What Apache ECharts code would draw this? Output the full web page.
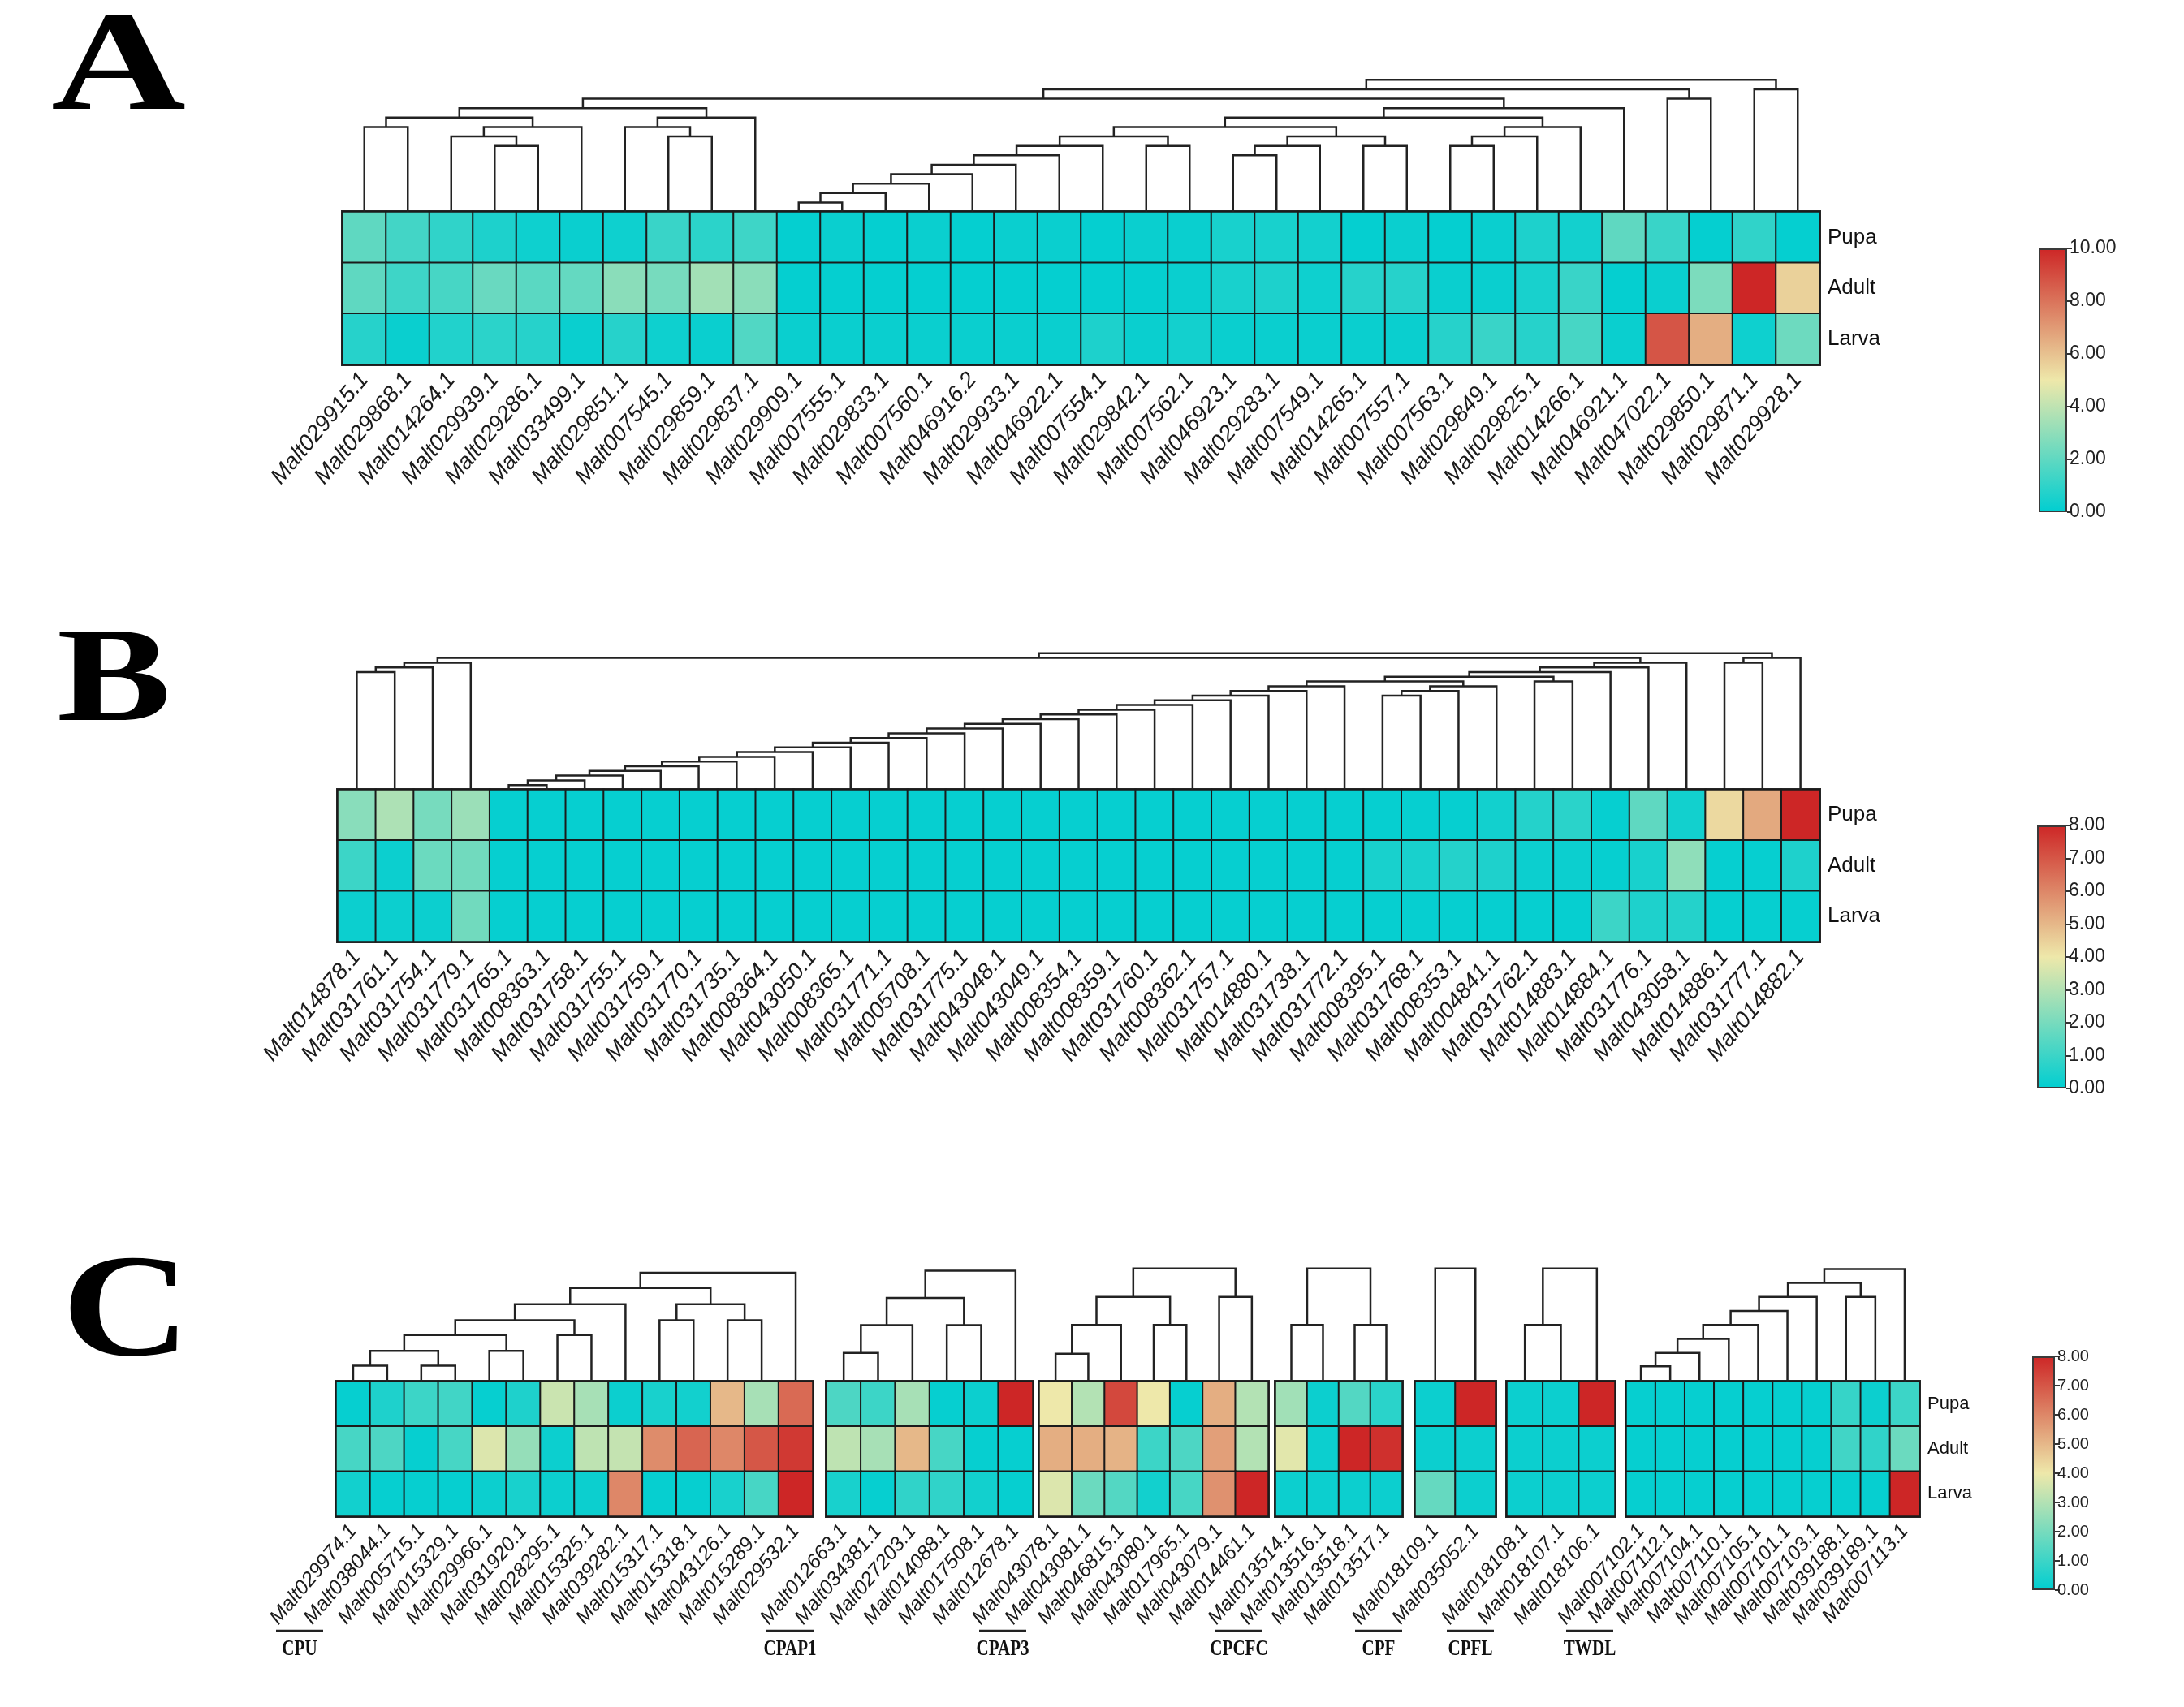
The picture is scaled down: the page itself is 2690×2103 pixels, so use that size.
<!DOCTYPE html>
<html>
<head>
<meta charset="utf-8">
<title>Expression heatmaps A B C</title>
<script src="https://cdn.jsdelivr.net/npm/echarts@6/dist/echarts.min.js"></script>
<style>
  html, body { margin: 0; padding: 0; background: #fff; }
  #chart { width: 2690px; height: 2103px; }
</style>
</head>
<body>
<div id="chart"></div>
<script>
// ================= data =================
const stages = ['Pupa', 'Adult', 'Larva'];

// ---- panel A ----
const genesA = ['Malt029915.1', 'Malt029868.1', 'Malt014264.1', 'Malt029939.1', 'Malt029286.1', 'Malt033499.1',
  'Malt029851.1', 'Malt007545.1', 'Malt029859.1', 'Malt029837.1', 'Malt029909.1', 'Malt007555.1', 'Malt029833.1',
  'Malt007560.1', 'Malt046916.2', 'Malt029933.1', 'Malt046922.1', 'Malt007554.1', 'Malt029842.1', 'Malt007562.1',
  'Malt046923.1', 'Malt029283.1', 'Malt007549.1', 'Malt014265.1', 'Malt007557.1', 'Malt007563.1', 'Malt029849.1',
  'Malt029825.1', 'Malt014266.1', 'Malt046921.1', 'Malt047022.1', 'Malt029850.1', 'Malt029871.1', 'Malt029928.1'];
const pupaA  = [2.0, 1.4, 1.0, 0.6, 0.3, 0.2, 0.3, 1.2, 0.9, 1.3, 0.1, 0.2, 0.1, 0.2, 0.1, 0.2, 0.2, 0.1, 0.2, 0.2,
  0.5, 0.5, 0.4, 0.1, 0.2, 0.1, 0.2, 0.6, 0.4, 2.0, 1.2, 0.1, 1.0, 0.1];
const adultA = [2.0, 1.3, 1.5, 2.2, 1.9, 2.1, 2.9, 2.5, 3.4, 2.9, 0.1, 0.1, 0.1, 0.1, 0.1, 0.1, 0.1, 0.1, 0.1, 0.2,
  0.5, 0.6, 0.3, 0.8, 0.8, 0.2, 0.2, 0.5, 1.2, 0.1, 0.2, 2.6, 10.0, 5.6];
const larvaA = [0.8, 0.2, 0.7, 0.9, 0.8, 0.2, 0.8, 0.3, 0.2, 1.7, 0.2, 0.2, 0.2, 0.2, 0.2, 0.2, 0.2, 0.6, 0.2, 0.4,
  0.2, 0.2, 0.2, 0.2, 0.2, 0.8, 1.2, 0.8, 1.5, 0.2, 8.8, 6.5, 0.3, 2.3];
// merges [left, right, height]; index < n is a leaf, n + k is merge k
const treeA = [[0, 1, 9], [3, 4, 7], [2, 35, 8], [36, 5, 9], [34, 37, 10], [7, 8, 8], [6, 39, 9], [40, 9, 10],
  [38, 41, 11], [10, 11, 1], [43, 12, 2], [44, 13, 3], [45, 14, 4], [46, 15, 5], [47, 16, 6], [48, 17, 7],
  [18, 19, 7], [49, 50, 8], [20, 21, 6], [52, 22, 7], [23, 24, 7], [53, 54, 8], [51, 55, 9], [25, 26, 7],
  [57, 27, 8], [58, 28, 9], [56, 59, 10], [60, 29, 11], [42, 61, 12], [30, 31, 12], [62, 63, 13],
  [32, 33, 13], [64, 65, 14]];
const ticksA = [0, 2, 4, 6, 8, 10];

// ---- panel B ----
const genesB = ['Malt014878.1', 'Malt031761.1', 'Malt031754.1', 'Malt031779.1', 'Malt031765.1', 'Malt008363.1',
  'Malt031758.1', 'Malt031755.1', 'Malt031759.1', 'Malt031770.1', 'Malt031735.1', 'Malt008364.1', 'Malt043050.1',
  'Malt008365.1', 'Malt031771.1', 'Malt005708.1', 'Malt031775.1', 'Malt043048.1', 'Malt043049.1', 'Malt008354.1',
  'Malt008359.1', 'Malt031760.1', 'Malt008362.1', 'Malt031757.1', 'Malt014880.1', 'Malt031738.1', 'Malt031772.1',
  'Malt008395.1', 'Malt031768.1', 'Malt008353.1', 'Malt004841.1', 'Malt031762.1', 'Malt014883.1', 'Malt014884.1',
  'Malt031776.1', 'Malt043058.1', 'Malt014886.1', 'Malt031777.1', 'Malt014882.1'];
const pupaB  = [2.3, 2.9, 2.0, 2.6, 0.1, 0.1, 0.1, 0.1, 0.1, 0.1, 0.1, 0.1, 0.1, 0.1, 0.1, 0.1, 0.1, 0.1, 0.1, 0.1,
  0.1, 0.1, 0.1, 0.1, 0.1, 0.1, 0.1, 0.1, 0.1, 0.1, 0.3, 0.6, 0.7, 0.1, 1.6, 0.3, 4.3, 5.3, 8.0];
const adultB = [1.0, 0.2, 1.8, 1.9, 0.1, 0.1, 0.1, 0.1, 0.1, 0.1, 0.1, 0.1, 0.1, 0.1, 0.1, 0.1, 0.1, 0.1, 0.1, 0.1,
  0.1, 0.1, 0.1, 0.1, 0.1, 0.1, 0.1, 0.4, 0.4, 0.6, 0.5, 0.2, 0.2, 0.1, 0.4, 2.4, 0.1, 0.1, 0.5];
const larvaB = [0.2, 0.2, 0.2, 1.9, 0.1, 0.1, 0.1, 0.1, 0.1, 0.1, 0.1, 0.1, 0.1, 0.1, 0.1, 0.1, 0.1, 0.1, 0.1, 0.1,
  0.1, 0.1, 0.1, 0.1, 0.1, 0.1, 0.1, 0.1, 0.1, 0.1, 0.1, 0.1, 0.1, 1.0, 0.5, 0.6, 0.1, 0.1, 0.1];
const treeB = [[0, 1, 25], [39, 2, 26], [40, 3, 27], [4, 5, 1], [42, 6, 2], [43, 7, 3], [44, 8, 4], [45, 9, 5],
  [46, 10, 6], [47, 11, 7], [48, 12, 8], [49, 13, 9], [50, 14, 10], [51, 15, 11], [52, 16, 12], [53, 17, 13],
  [54, 18, 14], [55, 19, 15], [56, 20, 16], [57, 21, 17], [58, 22, 18], [59, 23, 19], [60, 24, 20], [61, 25, 21],
  [62, 26, 22], [27, 28, 20], [64, 29, 21], [65, 30, 22], [63, 66, 23], [31, 32, 23], [67, 68, 24], [69, 33, 25],
  [70, 34, 26], [71, 35, 27], [41, 72, 28], [36, 37, 27], [74, 38, 28], [73, 75, 29]];
const ticksB = [0, 1, 2, 3, 4, 5, 6, 7, 8];

// ---- panel C (seven families) ----
const groupsC = ['CPU', 'CPAP1', 'CPAP3', 'CPCFC', 'CPF', 'CPFL', 'TWDL'];
const genesC = [
  ['Malt029974.1', 'Malt038044.1', 'Malt005715.1', 'Malt015329.1', 'Malt029966.1', 'Malt031920.1', 'Malt028295.1',
   'Malt015325.1', 'Malt039282.1', 'Malt015317.1', 'Malt015318.1', 'Malt043126.1', 'Malt015289.1', 'Malt029532.1'],
  ['Malt012663.1', 'Malt034381.1', 'Malt027203.1', 'Malt014088.1', 'Malt017508.1', 'Malt012678.1'],
  ['Malt043078.1', 'Malt043081.1', 'Malt046815.1', 'Malt043080.1', 'Malt017965.1', 'Malt043079.1', 'Malt014461.1'],
  ['Malt013514.1', 'Malt013516.1', 'Malt013518.1', 'Malt013517.1'],
  ['Malt018109.1', 'Malt035052.1'],
  ['Malt018108.1', 'Malt018107.1', 'Malt018106.1'],
  ['Malt007102.1', 'Malt007112.1', 'Malt007104.1', 'Malt007110.1', 'Malt007105.1', 'Malt007101.1', 'Malt007103.1',
   'Malt039188.1', 'Malt039189.1', 'Malt007113.1']
];
const pupaC = [
  [0.1, 0.5, 1.0, 1.1, 0.1, 0.5, 3.4, 2.8, 0.2, 0.4, 0.3, 5.0, 2.8, 6.6],
  [1.3, 1.0, 2.8, 0.1, 0.2, 8.0],
  [4.0, 3.0, 7.3, 4.0, 0.1, 5.2, 3.0],
  [2.7, 0.2, 1.4, 0.7],
  [0.2, 8.0],
  [0.2, 0.2, 8.0],
  [0.1, 0.1, 0.1, 0.1, 0.1, 0.1, 0.1, 0.9, 0.2, 1.0]
];
const adultC = [
  [1.2, 1.3, 0.1, 1.2, 3.7, 2.5, 0.2, 3.2, 3.3, 5.9, 6.7, 6.0, 7.0, 7.6],
  [3.2, 2.8, 5.0, 1.2, 0.1, 0.1],
  [5.2, 5.2, 5.1, 1.0, 1.3, 5.5, 3.0],
  [3.8, 0.2, 8.0, 7.8],
  [0.2, 0.2],
  [0.2, 0.2, 0.2],
  [0.1, 0.1, 0.1, 0.1, 0.1, 0.1, 0.1, 1.1, 0.8, 1.8]
];
const larvaC = [
  [0.3, 0.1, 0.1, 0.1, 0.2, 0.4, 0.2, 0.2, 6.0, 0.1, 0.1, 0.4, 1.2, 8.0],
  [0.4, 0.1, 0.8, 0.8, 0.3, 0.1],
  [3.7, 1.8, 1.4, 0.3, 1.2, 5.8, 8.0],
  [0.2, 0.2, 0.2, 0.2],
  [1.7, 0.2],
  [0.2, 0.2, 0.2],
  [0.1, 0.1, 0.1, 0.1, 0.1, 0.1, 0.1, 0.1, 0.1, 8.0]
];
const treesC = [
  [[0, 1, 19.5], [2, 3, 19.5], [14, 15, 37.7], [4, 5, 37.7], [16, 17, 57.3], [6, 7, 57.3], [18, 19, 75.6],
   [20, 8, 95.2], [9, 10, 75.6], [11, 12, 75.6], [22, 23, 95.2], [21, 24, 115.2], [25, 13, 134.1]],
  [[0, 1, 35.3], [6, 2, 69.4], [3, 4, 69.4], [7, 8, 103.1], [9, 5, 136.5]],
  [[0, 1, 34.3], [7, 2, 69.7], [3, 4, 69.7], [8, 9, 104.2], [5, 6, 104.2], [10, 11, 139.3]],
  [[0, 1, 69.7], [2, 3, 69.7], [4, 5, 139.3]],
  [[0, 1, 139.3]],
  [[0, 1, 69.7], [3, 2, 139.3]],
  [[0, 1, 18.8], [10, 2, 35.3], [11, 3, 52.5], [12, 4, 69.7], [13, 5, 86.9], [14, 6, 104.2], [7, 8, 104.2],
   [15, 16, 121.4], [17, 9, 138.6]]
];
const ticksC = [0, 1, 2, 3, 4, 5, 6, 7, 8];

// ================= layout & style =================
const palette = ['#00CED1', '#EEE8AA', '#CD2626'];
const SANS = 'Liberation Sans, Arial, sans-serif';
const SERIF = 'Liberation Serif, Times New Roman, serif';
const LAYOUT = {
  A: { left: 422, right: 2241, top: 261, bottom: 449, unit: 11.62, bar: [2511, 306, 35, 325], geneFont: 28, stageFont: 26, tickFont: 23 },
  B: { left: 416, right: 2241, top: 973, bottom: 1160, unit: 5.8, bar: [2509, 1017, 36, 324], geneFont: 28, stageFont: 26, tickFont: 23 },
  C: { blocks: [[414, 1001], [1018, 1272], [1280, 1562], [1571, 1727], [1743, 1842], [1856, 1989], [2003, 2364]],
       top: 1702, bottom: 1868, unit: 1, bar: [2503, 1671, 28, 288], geneFont: 25, stageFont: 22, tickFont: 20 }
};

// ================= builders =================
const grid = [], xAxis = [], yAxis = [], series = [], visualMap = [];

function addGrid(g, xa, ya) {
  grid.push(g);
  const i = grid.length - 1;
  xa.gridIndex = i; ya.gridIndex = i;
  xAxis.push(xa); yAxis.push(ya);
  return i;
}

function cells(rows) {
  const out = [];
  rows.forEach((row, r) => row.forEach((v, c) => out.push([c, r, v])));
  return out;
}

function addHeatmap(left, right, top, bottom, genes, rows, st, showStages) {
  const gi = addGrid(
    { left: left, top: top, width: right - left, height: bottom - top, show: true,
      borderColor: '#2a2a2a', borderWidth: 4, backgroundColor: 'transparent' },
    { type: 'category', data: genes, axisLine: { show: false }, axisTick: { show: false }, splitLine: { show: false },
      axisLabel: { rotate: 50, interval: 0, fontStyle: 'italic', fontFamily: SANS, fontSize: st.geneFont, color: '#1a1a1a', margin: 14 } },
    { type: 'category', data: stages, inverse: true, position: 'right', axisLine: { show: false }, axisTick: { show: false },
      splitLine: { show: false },
      axisLabel: { show: showStages, fontFamily: SANS, fontSize: st.stageFont, color: '#111', margin: 10 } }
  );
  series.push({
    type: 'heatmap', xAxisIndex: gi, yAxisIndex: gi, data: cells(rows),
    itemStyle: { borderColor: '#1b1b1b', borderWidth: 2 },
    emphasis: { disabled: true }, silent: true, animation: false
  });
  return series.length - 1;
}

function dendroLinks(tree, n) {
  const x = [], h = [];
  for (let i = 0; i < n; i++) { x.push(i); h.push(0); }
  return tree.map(([a, b, ht]) => {
    const link = { coords: [[x[a], h[a]], [x[a], ht], [x[b], ht], [x[b], h[b]]] };
    x.push((x[a] + x[b]) / 2);
    h.push(ht);
    return link;
  });
}

function addDendro(left, right, heatTop, unit, tree, n) {
  const rootH = tree[tree.length - 1][2];
  const hPx = rootH * unit;
  const gi = addGrid(
    { left: left, top: heatTop - hPx, width: right - left, height: hPx },
    { type: 'value', min: -0.5, max: n - 0.5, show: false },
    { type: 'value', min: 0, max: rootH, show: false }
  );
  series.push({
    type: 'lines', coordinateSystem: 'cartesian2d', xAxisIndex: gi, yAxisIndex: gi, polyline: true,
    data: dendroLinks(tree, n), clip: false, silent: true, animation: false,
    lineStyle: { color: '#222', width: 2.5, opacity: 1 }
  });
}

function addColorbar(box, ticks, fontSize) {
  const max = ticks[ticks.length - 1];
  const gi = addGrid(
    { left: box[0], top: box[1], width: box[2], height: box[3] },
    { type: 'category', data: ['scale'], show: false },
    { type: 'value', min: ticks[0], max: max, interval: ticks[1] - ticks[0], position: 'right',
      axisLine: { show: false }, splitLine: { show: false },
      axisTick: { show: true, length: 6, lineStyle: { color: '#333', width: 2 } },
      axisLabel: { formatter: v => v.toFixed(2), fontFamily: SANS, fontSize: fontSize, color: '#222', margin: 3 } }
  );
  series.push({
    type: 'bar', xAxisIndex: gi, yAxisIndex: gi, data: [max], barWidth: '100%', silent: true, animation: false,
    itemStyle: {
      color: new echarts.graphic.LinearGradient(0, 1, 0, 0, [
        { offset: 0, color: palette[0] }, { offset: 0.5, color: palette[1] }, { offset: 1, color: palette[2] }]),
      borderColor: '#3a3a3a', borderWidth: 2
    }
  });
}

// ---- panel A ----
const LA = LAYOUT.A;
const sA = addHeatmap(LA.left, LA.right, LA.top, LA.bottom, genesA, [pupaA, adultA, larvaA], LA, true);
addDendro(LA.left, LA.right, LA.top, LA.unit, treeA, genesA.length);
addColorbar(LA.bar, ticksA, LA.tickFont);
visualMap.push({ type: 'continuous', show: false, min: ticksA[0], max: ticksA[ticksA.length - 1], dimension: 2,
  seriesIndex: [sA], inRange: { color: palette } });

// ---- panel B ----
const LB = LAYOUT.B;
const sB = addHeatmap(LB.left, LB.right, LB.top, LB.bottom, genesB, [pupaB, adultB, larvaB], LB, true);
addDendro(LB.left, LB.right, LB.top, LB.unit, treeB, genesB.length);
addColorbar(LB.bar, ticksB, LB.tickFont);
visualMap.push({ type: 'continuous', show: false, min: ticksB[0], max: ticksB[ticksB.length - 1], dimension: 2,
  seriesIndex: [sB], inRange: { color: palette } });

// ---- panel C ----
const LC = LAYOUT.C;
const sC = [];
const graphics = [];
genesC.forEach((genes, k) => {
  const [l, r] = LC.blocks[k];
  sC.push(addHeatmap(l, r, LC.top, LC.bottom, genes, [pupaC[k], adultC[k], larvaC[k]], LC, k === genesC.length - 1));
  addDendro(l, r, LC.top, LC.unit, treesC[k], genes.length);
  // family label with overline, under the first gene name of the block
  const cx = l - 45;
  graphics.push({ type: 'line', shape: { x1: cx - 29, y1: 2009, x2: cx + 29, y2: 2009 },
    style: { stroke: '#222', lineWidth: 2.5 }, silent: true });
  graphics.push({ type: 'text', x: cx, y: 2032, scaleX: 0.78, silent: true,
    style: { text: groupsC[k], fontFamily: SERIF, fontWeight: 'bold', fontSize: 27, fill: '#111',
      align: 'center', verticalAlign: 'middle' } });
});
addColorbar(LC.bar, ticksC, LC.tickFont);
visualMap.push({ type: 'continuous', show: false, min: ticksC[0], max: ticksC[ticksC.length - 1], dimension: 2,
  seriesIndex: sC, inRange: { color: palette } });

// ---- panel letters ----
[['A', 63, 26, 174, 1.32], ['B', 70, 784, 165, 1.28], ['C', 76, 1557, 180, 1.22]].forEach(([t, x, capTop, size, sx]) => {
  graphics.push({ type: 'text', x: x, y: capTop - 0.2 * size + 11, scaleX: sx, silent: true,
    style: { text: t, fontFamily: SERIF, fontWeight: 'bold', fontSize: size, fill: '#000', align: 'left', verticalAlign: 'top' } });
});

const chart = echarts.init(document.getElementById('chart'), null, { renderer: 'canvas' });
chart.setOption({
  backgroundColor: '#ffffff',
  animation: false,
  grid: grid, xAxis: xAxis, yAxis: yAxis,
  visualMap: visualMap,
  series: series,
  graphic: graphics
});
</script>
</body>
</html>
